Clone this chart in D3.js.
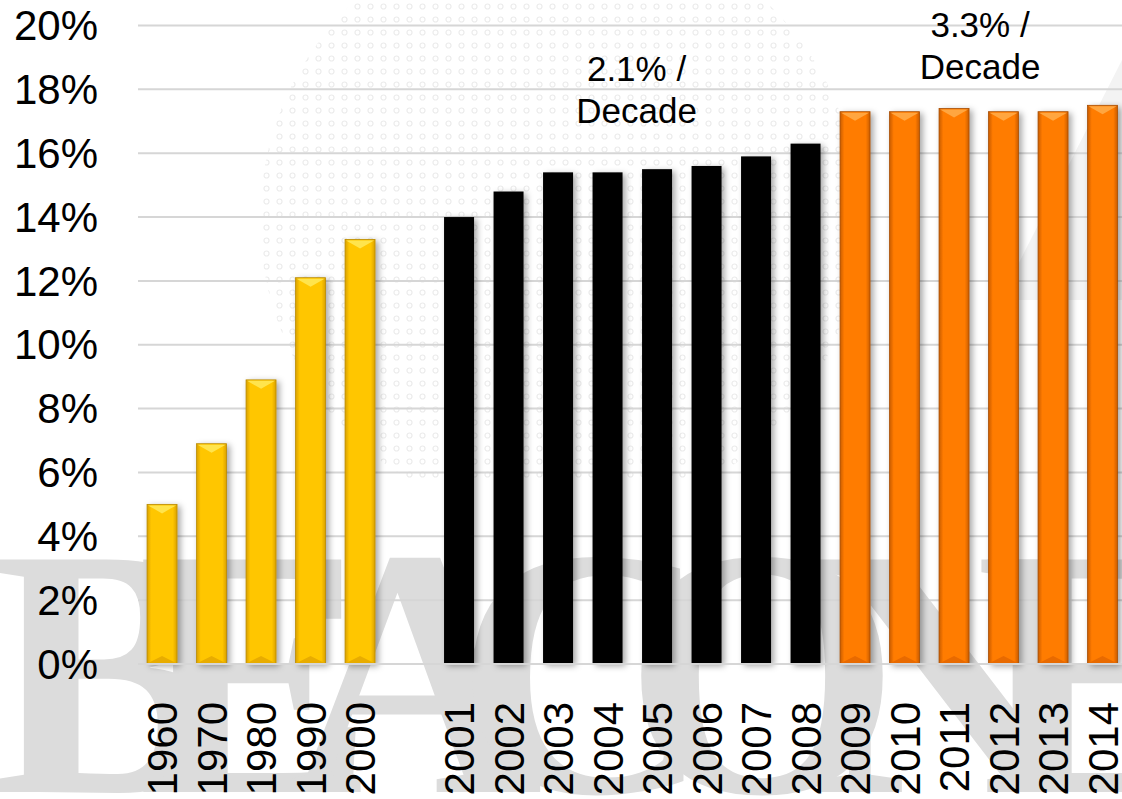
<!DOCTYPE html>
<html>
<head>
<meta charset="utf-8">
<script src="https://cdn.jsdelivr.net/npm/d3@7"></script>
<style>
  html, body { margin: 0; padding: 0; background: #fff; }
  svg { display: block; font-family: "Liberation Sans", Arial, sans-serif; }
</style>
</head>
<body>
<div id="chart"></div>
<script>
// categories (one empty slot between 2000 and 2001)
var categories = ['1960', '1970', '1980', '1990', '2000', 'gap',
    '2001', '2002', '2003', '2004', '2005', '2006', '2007', '2008',
    '2009', '2010', '2011', '2012', '2013', '2014'];

// share values, in percent
var decadeValues = [5.0, 6.9, 8.9, 12.1, 13.3];
var earlyValues = [14.0, 14.8, 15.4, 15.4, 15.5, 15.6, 15.9, 16.3];
var lateValues = [17.3, 17.3, 17.4, 17.3, 17.3, 17.5];

var decadeYears = ['1960', '1970', '1980', '1990', '2000'];
var earlyYears = ['2001', '2002', '2003', '2004', '2005', '2006', '2007', '2008'];
var lateYears = ['2009', '2010', '2011', '2012', '2013', '2014'];

var yTicks = [0, 2, 4, 6, 8, 10, 12, 14, 16, 18, 20];

// trend labels: anchored above a category, first line baseline at a value
var annotations = [
    { at: '2004', shift: 29, lines: ['2.1% /', 'Decade'], value: 18.25 },
    { at: '2011', shift: 26, lines: ['3.3% /', 'Decade'], value: 19.63 }
];

var width = 1122;
var height = 799;

var x = d3.scaleBand()
    .domain(categories)
    .range([137.3, 1127.3])
    .paddingInner(0.394)
    .paddingOuter(0.197);

var y = d3.scaleLinear()
    .domain([0, 20])
    .range([664, 25.5]);

var svg = d3.select('#chart')
    .append('svg')
    .attr('width', width)
    .attr('height', height);

var defs = svg.append('defs');

// gradients for the bevelled bars
function barGradient(id, edge, mid) {
    var g = defs.append('linearGradient').attr('id', id)
        .attr('x1', '0%').attr('x2', '100%').attr('y1', '0%').attr('y2', '0%');
    g.append('stop').attr('offset', '0%').attr('stop-color', edge);
    g.append('stop').attr('offset', '14%').attr('stop-color', mid);
    g.append('stop').attr('offset', '86%').attr('stop-color', mid);
    g.append('stop').attr('offset', '100%').attr('stop-color', edge);
}
barGradient('gold', '#d9a100', '#ffc600');
barGradient('orange', '#c85c00', '#ff7b00');

var shadow = defs.append('filter').attr('id', 'shadow')
    .attr('x', '-30%').attr('y', '-10%').attr('width', '180%').attr('height', '130%');
shadow.append('feDropShadow')
    .attr('dx', 3).attr('dy', 2).attr('stdDeviation', 3)
    .attr('flood-color', '#000').attr('flood-opacity', 0.35);

// faint dotted background pattern
var pat = defs.append('pattern').attr('id', 'dots')
    .attr('width', 13).attr('height', 13).attr('patternUnits', 'userSpaceOnUse');
pat.append('circle').attr('cx', 6.5).attr('cy', 6.5).attr('r', 2.5)
    .attr('fill', 'none').attr('stroke', '#ececec').attr('stroke-width', 1.2);

defs.append('clipPath').attr('id', 'dotclip')
    .append('circle').attr('cx', 560).attr('cy', 220).attr('r', 300);

svg.append('rect')
    .attr('width', width).attr('height', 480)
    .attr('fill', 'url(#dots)')
    .attr('clip-path', 'url(#dotclip)');

svg.append('path')
    .attr('d', 'M1000,300 L1122,60 L1122,300 Z')
    .attr('fill', '#f3f3f3');

// watermark letters
svg.append('text')
    .attr('x', -12)
    .attr('y', 792)
    .attr('textLength', 1230)
    .attr('lengthAdjust', 'spacing')
    .style('font-family', '"Liberation Serif", "Times New Roman", serif')
    .style('font-weight', 'bold')
    .style('font-size', '355px')
    .style('fill', '#dcdcdc')
    .text('BEACONE');

// gridlines
svg.append('g')
    .selectAll('line')
    .data(yTicks)
    .enter()
    .append('line')
    .attr('x1', 138)
    .attr('x2', width)
    .attr('y1', function(d) { return y(d); })
    .attr('y2', function(d) { return y(d); })
    .attr('stroke', '#d6d6d6')
    .attr('stroke-width', 2);

// y tick labels
svg.append('g')
    .selectAll('text')
    .data(yTicks)
    .enter()
    .append('text')
    .attr('x', 98)
    .attr('y', function(d) { return y(d); })
    .attr('dy', '0.35em')
    .attr('text-anchor', 'end')
    .style('font-size', '42px')
    .style('fill', '#000')
    .text(function(d) { return d + '%'; });

// bars
function drawBars(years, values, fill, bevel) {
    var rows = years.map(function(yr, i) { return { year: yr, value: values[i] }; });
    var g = svg.append('g');
    var bars = g.selectAll('g').data(rows).enter().append('g');

    bars.append('rect')
        .attr('x', function(d) { return x(d.year); })
        .attr('y', function(d) { return y(d.value); })
        .attr('width', x.bandwidth())
        .attr('height', function(d) { return y(0) - y(d.value); })
        .attr('fill', fill)
        .attr('stroke', bevel ? bevel.stroke : 'none')
        .attr('stroke-width', 0.8)
        .attr('filter', 'url(#shadow)');

    if (bevel) {
        // light triangle on top of each bar
        bars.append('path')
            .attr('d', function(d) {
                var x0 = x(d.year), w = x.bandwidth(), t = y(d.value);
                return 'M' + (x0 + 1) + ',' + (t + 1) + ' L' + (x0 + w - 1) + ',' + (t + 1) +
                    ' L' + (x0 + w / 2) + ',' + (t + 9) + ' Z';
            })
            .attr('fill', bevel.top);
        // darker triangle at the bottom
        bars.append('path')
            .attr('d', function(d) {
                var x0 = x(d.year), w = x.bandwidth(), b = y(0);
                return 'M' + (x0 + 1) + ',' + (b - 1) + ' L' + (x0 + w - 1) + ',' + (b - 1) +
                    ' L' + (x0 + w / 2) + ',' + (b - 8) + ' Z';
            })
            .attr('fill', bevel.bottom);
    }
}

drawBars(decadeYears, decadeValues, 'url(#gold)', { stroke: '#b98a00', top: '#ffe44d', bottom: '#e8ac00' });
drawBars(earlyYears, earlyValues, '#000', null);
drawBars(lateYears, lateValues, 'url(#orange)', { stroke: '#a84d00', top: '#ffa640', bottom: '#e86a00' });

// baseline
svg.append('line')
    .attr('x1', 138).attr('x2', width)
    .attr('y1', y(0)).attr('y2', y(0))
    .attr('stroke', '#d6d6d6').attr('stroke-width', 2);

// x tick labels, rotated
svg.append('g')
    .selectAll('text')
    .data(categories.filter(function(c) { return c !== 'gap'; }))
    .enter()
    .append('text')
    .attr('transform', function(d) {
        return 'translate(' + (x(d) + x.bandwidth() / 2) + ',' + 702 + ') rotate(-90)';
    })
    .attr('dy', '0.36em')
    .attr('text-anchor', 'end')
    .style('font-size', '42px')
    .style('fill', '#000')
    .text(function(d) { return d; });

// trend annotations
annotations.forEach(function(a) {
    var cx = x(a.at) + x.bandwidth() / 2 + a.shift;
    svg.append('text')
        .attr('x', cx)
        .attr('y', y(a.value))
        .attr('text-anchor', 'middle')
        .style('font-size', '35px')
        .style('fill', '#000')
        .selectAll('tspan')
        .data(a.lines)
        .enter()
        .append('tspan')
        .attr('x', cx)
        .attr('dy', function(d, i) { return i === 0 ? 0 : 42; })
        .text(function(d) { return d; });
});
</script>
</body>
</html>
